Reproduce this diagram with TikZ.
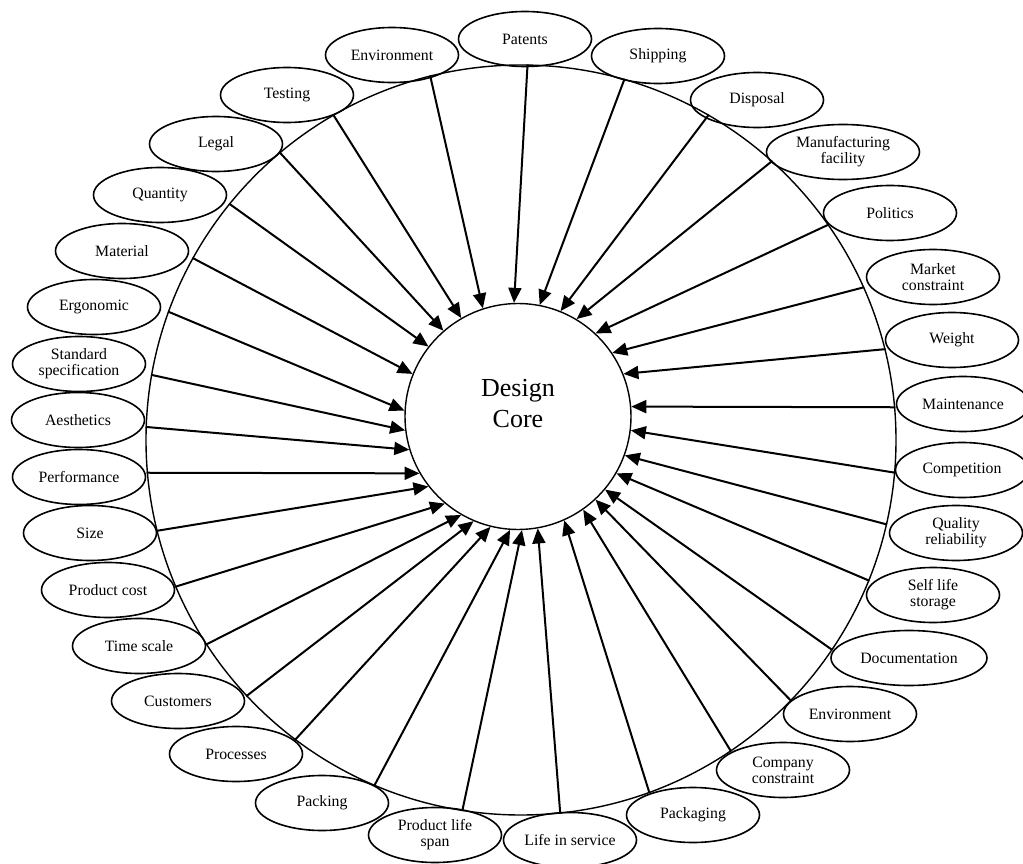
\documentclass[tikz,border=0pt]{standalone}
\usepackage{fontspec}
\setmainfont{Liberation Serif}
\usetikzlibrary{shapes.geometric,arrows.meta}
\begin{document}
\begin{tikzpicture}[x=1pt,y=-1pt,
  factor/.style={ellipse, draw, line width=1.6pt, inner sep=0pt,
    minimum width=133pt, minimum height=55pt, align=center,
    font=\fontsize{15.8}{16}\selectfont},
  influence/.style={line width=2pt, -{Triangle[length=15pt,width=13pt]}},
  hub/.style={circle, draw, line width=1.4pt, inner sep=0pt},
]
\useasboundingbox (0,0) rectangle (1023,864);

% outer ring and the design core
\node[hub, minimum size=750pt] (ring) at (521,440) {};
\node[hub, minimum size=226pt] (core) at (518,416.5) {};
\node[align=center, font=\fontsize{26}{31}\selectfont] (corelabel) at (518,403.6) {Design\\Core};

% factors around the ring
\node[factor] (envtop)    at (392,55)  {Environment};
\node[factor] (patents)   at (525,39)  {Patents};
\node[factor] (shipping)  at (658,56)  {Shipping};
\node[factor] (disposal)  at (757,100) {Disposal};
\node[factor, minimum width=153pt] (manuf) at (843,152) {Manufacturing\\facility};
\node[factor] (politics)  at (890,213) {Politics};
\node[factor] (market)    at (933,277) {Market\\constraint};
\node[factor] (weight)    at (952,340) {Weight};
\node[factor] (maint)     at (963,404) {Maintenance};
\node[factor] (compet)    at (962,470) {Competition};
\node[factor] (quality)   at (956,533) {Quality\\reliability};
\node[factor] (selflife)  at (933,595) {Self life\\storage};
\node[factor, minimum width=156pt] (docu) at (909,658) {Documentation};
\node[factor] (envlow)    at (850,714) {Environment};
\node[factor] (company)   at (783,770) {Company\\constraint};
\node[factor] (packaging) at (693,815) {Packaging};
\node[factor] (lifeserv)  at (570,840) {Life in service};
\node[factor] (prodlife)  at (435,835) {Product life\\span};
\node[factor] (packing)   at (322,803) {Packing};
\node[factor] (processes) at (236,754) {Processes};
\node[factor] (customers) at (178,701) {Customers};
\node[factor] (timescale) at (139,646) {Time scale};
\node[factor] (prodcost)  at (108,590) {Product cost};
\node[factor] (size)      at (90,533)  {Size};
\node[factor] (perf)      at (79,477)  {Performance};
\node[factor] (aesth)     at (78,420)  {Aesthetics};
\node[factor] (stdspec)   at (79,364)  {Standard\\specification};
\node[factor] (ergo)      at (94,307)  {Ergonomic};
\node[factor] (material)  at (122,251) {Material};
\node[factor] (quantity)  at (160,195) {Quantity};
\node[factor] (legal)     at (216,144) {Legal};
\node[factor] (testing)   at (287,95)  {Testing};

% influences: from the ring to the core
\draw[influence] (ring.104.9) -- (core.108.2);
\draw[influence] (ring.89.7)  -- (core.92.8);
\draw[influence] (ring.74.8)  -- (core.79.8);
\draw[influence] (ring.60.7)  -- (core.68.1);
\draw[influence] (ring.48.9)  -- (core.59);
\draw[influence] (ring.35.6)  -- (core.47.3);
\draw[influence] (ring.24.8)  -- (core.34);
\draw[influence] (ring.14.3)  -- (core.22.1);
\draw[influence] (ring.5.2)   -- (core.5.3);
\draw[influence] (ring.-5)    -- (core.-7.9);
\draw[influence] (ring.-13.5) -- (core.-20);
\draw[influence] (ring.-22.7) -- (core.-30.7);
\draw[influence] (ring.-34.2) -- (core.-40.8);
\draw[influence] (ring.-44.5) -- (core.-47.4);
\draw[influence] (ring.-56.8) -- (core.-55.5);
\draw[influence] (ring.-70.6) -- (core.-66.8);
\draw[influence] (ring.-84.1) -- (core.-80.1);
\draw[influence] (ring.-99.3) -- (core.-88.5);
\draw[influence] (ring.-113.8) -- (core.-94);
\draw[influence] (ring.-127.6) -- (core.-104.6);
\draw[influence] (ring.-137.7) -- (core.-113.6);
\draw[influence] (ring.-147.6) -- (core.-120.2);
\draw[influence] (ring.-157.4) -- (core.-130.4);
\draw[influence] (ring.-166.4) -- (core.-142.1);
\draw[influence] (ring.-175)  -- (core.-150);
\draw[influence] (ring.178.8) -- (core.-163);
\draw[influence] (ring.170.2) -- (core.-173.7);
\draw[influence] (ring.160.7) -- (core.177.3);
\draw[influence] (ring.151.3) -- (core.158.2);
\draw[influence] (ring.141.6) -- (core.142.7);
\draw[influence] (ring.130.1) -- (core.131.1);
\draw[influence] (ring.120.2) -- (core.120.3);
\end{tikzpicture}
\end{document}
